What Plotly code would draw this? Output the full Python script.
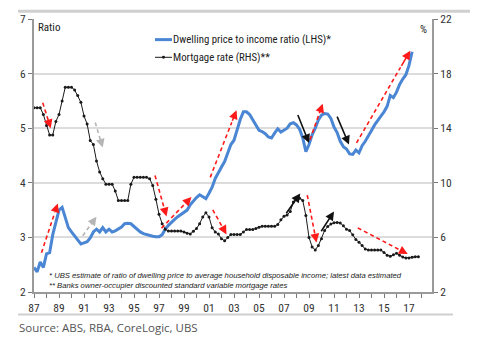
import plotly.graph_objects as go

# ---- data -------------------------------------------------------------
# quarterly observations, first point = 1987 Q1
series_start = 1987.0

price_income_ratio = [
    2.45, 2.37, 2.55, 2.45,
    2.70, 2.72, 3.05, 3.28,
    3.50, 3.55, 3.35, 3.18,
    3.10, 3.03, 2.97, 2.88,
    2.90, 2.92, 2.99, 3.10,
    3.15, 3.10, 3.18, 3.10,
    3.15, 3.10, 3.12, 3.16,
    3.19, 3.25, 3.26, 3.25,
    3.20, 3.15, 3.10, 3.07,
    3.05, 3.03, 3.02, 3.01,
    3.01, 3.05, 3.15, 3.22,
    3.28, 3.33, 3.38, 3.42,
    3.45, 3.50, 3.60, 3.67,
    3.73, 3.78, 3.75, 3.71,
    3.81, 3.92, 4.08, 4.20,
    4.29, 4.39, 4.55, 4.70,
    4.78, 4.98, 5.16, 5.30,
    5.30, 5.25, 5.15, 5.07,
    4.96, 4.94, 4.90, 4.84,
    4.82, 4.91, 4.99, 4.93,
    4.96, 5.00, 5.08, 5.10,
    5.06, 4.98, 4.82, 4.57,
    4.70, 4.88, 5.00, 5.15,
    5.24, 5.27, 5.26, 5.18,
    5.02, 4.92, 4.76, 4.66,
    4.62, 4.53, 4.52, 4.60,
    4.55, 4.68, 4.76, 4.85,
    4.96, 5.06, 5.13, 5.22,
    5.30, 5.40, 5.60, 5.56,
    5.66, 5.80, 5.90, 5.98,
    6.15, 6.40,
]

mortgage_rate = [
    15.5, 15.5, 15.5, 15.0,
    14.2, 13.5, 13.5, 14.5,
    15.0, 16.0, 17.0, 17.0,
    17.0, 16.8, 16.4, 15.9,
    14.9, 14.3, 13.1, 12.8,
    11.6, 10.8, 10.3, 9.9,
    9.9, 9.9, 9.4, 8.7,
    8.7, 8.7, 8.7, 9.9,
    10.4, 10.4, 10.4, 10.4,
    10.4, 10.3, 9.8, 8.8,
    7.7, 7.0, 6.6, 6.46,
    6.46, 6.46, 6.46, 6.46,
    6.4, 6.3, 6.25, 6.45,
    6.65, 7.0, 7.5, 7.8,
    7.5, 6.7, 6.4, 6.24,
    5.9, 5.75, 6.0, 6.22,
    6.22, 6.22, 6.22, 6.4,
    6.58, 6.58, 6.58, 6.65,
    6.75, 6.82, 6.82, 6.82,
    6.82, 6.82, 6.95, 7.3,
    7.55, 7.64, 7.9, 8.6,
    8.8, 8.86, 8.7, 7.6,
    6.0, 5.3, 5.08, 5.4,
    5.9, 6.5, 6.8, 6.98,
    7.08, 7.1, 7.06, 6.85,
    6.6, 6.5, 6.2, 5.85,
    5.65, 5.4, 5.15, 5.07,
    5.07, 5.07, 5.07, 5.07,
    4.9, 4.7, 4.62, 4.72,
    4.83, 4.7, 4.56, 4.5,
    4.5, 4.55, 4.59, 4.59,
]

tick_years = list(range(1987, 2018, 2))
tick_labels = ["87", "89", "91", "93", "95", "97", "99", "01",
               "03", "05", "07", "09", "11", "13", "15", "17"]
minor_years = list(range(1987, 2019))

left_ticks = [2, 3, 4, 5, 6, 7]
right_ticks = [2, 6, 10, 14, 18, 22]

# trend arrows: (x tail, y tail, x head, y head, axis, colour, dashed)
trend_arrows = [
    (1987.7, 15.86, 1988.34, 14.0, "y2", "red", True),
    (1987.6, 2.72, 1988.9, 3.62, "y", "red", True),
    (1991.9, 14.42, 1992.5, 12.58, "y2", "grey", True),
    (1990.9, 3.03, 1992.0, 3.38, "y", "grey", True),
    (1996.68, 10.54, 1997.6, 7.54, "y2", "red", True),
    (1997.2, 3.17, 1999.6, 3.74, "y", "red", True),
    (2001.1, 4.10, 2003.2, 5.33, "y", "red", True),
    (2001.3, 8.02, 2002.4, 6.22, "y2", "red", True),
    (2008.06, 5.27, 2009.0, 4.73, "y", "black", False),
    (2009.08, 4.79, 2010.1, 5.45, "y", "red", True),
    (2011.2, 5.24, 2012.2, 4.70, "y", "black", False),
    (2012.8, 4.73, 2017.1, 6.42, "y", "red", True),
    (2007.1, 7.66, 2008.3, 9.22, "y2", "black", False),
    (2008.86, 9.10, 2009.6, 5.62, "y2", "red", True),
    (2009.9, 6.34, 2011.0, 7.90, "y2", "black", False),
    (2012.9, 6.70, 2016.9, 4.78, "y2", "red", True),
]

# ---- styling -----------------------------------------------------------
NARROW = "Roboto Condensed, DejaVu Sans Condensed, sans-serif"
BLUE = "#4a86d4"
INK = "#1a1a1a"
AXIS = "#9a9a9a"
colour_map = {"red": "#ff1a1a", "grey": "#b5b5b5", "black": "#111111"}

W, H = 481, 347
ML, MR, MT, MB = 34, 49, 14, 55
PW, PH = W - ML - MR, H - MT - MB


def px(x):
    return (x - ML) / PW


def py(y):
    return (H - MB - y) / PH


ratio_x = [series_start + 0.25 * i for i in range(len(price_income_ratio))]
mort_x = [series_start + 0.25 * i for i in range(len(mortgage_rate))]

fig = go.Figure()
fig.add_trace(go.Scatter(
    x=mort_x, y=mortgage_rate, yaxis="y2", mode="lines+markers",
    line=dict(color=INK, width=1), marker=dict(size=3, color=INK),
    name="Mortgage rate (RHS)**", showlegend=False,
))
fig.add_trace(go.Scatter(
    x=ratio_x, y=price_income_ratio, mode="lines",
    line=dict(color=BLUE, width=3),
    name="Dwelling price to income ratio (LHS)*", showlegend=False,
))

shapes = []
annotations = []

for x0, y0, x1, y1, ax_ref, colour, dashed in trend_arrows:
    c = colour_map[colour]
    hx = x1 - 0.18 * (x1 - x0)
    hy = y1 - 0.18 * (y1 - y0)
    if dashed:
        shapes.append(dict(type="line", xref="x", yref=ax_ref,
                           x0=x0, y0=y0, x1=hx, y1=hy,
                           line=dict(color=c, width=1.6, dash="4px,3px")))
        tail_x, tail_y = hx, hy
    else:
        tail_x, tail_y = x0, y0
    annotations.append(dict(
        x=x1, y=y1, xref="x", yref=ax_ref,
        ax=tail_x, ay=tail_y, axref="x", ayref=ax_ref,
        text="", showarrow=True, arrowhead=2, arrowsize=1.1,
        arrowwidth=1.6, arrowcolor=c,
    ))

# frame rules above and below the chart body
shapes.append(dict(type="line", xref="paper", yref="paper",
                   x0=px(18), x1=px(470), y0=py(6), y1=py(6),
                   line=dict(color="#cfcfcf", width=3)))
shapes.append(dict(type="line", xref="paper", yref="paper",
                   x0=px(18), x1=px(453), y0=py(315), y1=py(315),
                   line=dict(color="#cfcfcf", width=2)))

# legend samples
shapes.append(dict(type="line", xref="paper", yref="paper",
                   x0=px(155), x1=px(172), y0=py(35), y1=py(35),
                   line=dict(color=BLUE, width=3)))
shapes.append(dict(type="line", xref="paper", yref="paper",
                   x0=px(155), x1=px(172), y0=py(53), y1=py(53),
                   line=dict(color=INK, width=1)))
shapes.append(dict(type="circle", xref="paper", yref="paper",
                   x0=px(162), x1=px(165), y0=py(51.5), y1=py(54.5),
                   fillcolor=INK, line=dict(color=INK, width=0)))


def label(text, x, y, size, xanchor="left", family=NARROW, color="#222", italic=False):
    annotations.append(dict(
        text=text, x=px(x), y=py(y), xref="paper", yref="paper",
        xanchor=xanchor, yanchor="middle", showarrow=False,
        font=dict(family=family, size=size, color=color,
                  style="italic" if italic else "normal"),
    ))


label("Ratio", 36, 23, 11)
label("%", 429, 25, 11, xanchor="right")
label("Dwelling price to income ratio (LHS)*", 171, 35, 10.8)
label("Mortgage rate (RHS)**", 171, 53, 10.8)
label("* UBS estimate of ratio of dwelling price to average household disposable income; latest data estimated",
      47, 275, 7.7, family="Liberation Sans, Arial, sans-serif", italic=True)
label("** Banks owner-occupier discounted standard variable mortgage rates",
      47, 285, 7.7, family="Liberation Sans, Arial, sans-serif", italic=True)
label("Source: ABS, RBA, CoreLogic, UBS", 17, 328, 11.5,
      family="Open Sans, Noto Sans, sans-serif", color="#555")

tick_font = dict(family=NARROW, size=11.5, color="#333")

fig.update_layout(
    width=W, height=H,
    margin=dict(l=ML, r=MR, t=MT, b=MB),
    paper_bgcolor="white", plot_bgcolor="white",
    showlegend=False,
    xaxis=dict(
        range=[1987, 2018.84], tickmode="array",
        tickvals=tick_years, ticktext=tick_labels,
        ticks="outside", ticklen=4, tickwidth=1, tickcolor="#777",
        showline=True, linecolor=AXIS, linewidth=2,
        showgrid=False, zeroline=False, tickfont=tick_font,
        minor=dict(tickmode="array", tickvals=minor_years, ticks="outside",
                   ticklen=4, tickwidth=1, tickcolor="#777", showgrid=False),
    ),
    yaxis=dict(
        range=[2, 7], tickmode="array", tickvals=left_ticks,
        ticks="outside", ticklen=4, tickwidth=1, tickcolor="#777",
        showline=True, linecolor=AXIS, linewidth=2,
        showgrid=True, gridcolor="#dcdcdc", gridwidth=1.5,
        zeroline=False, tickfont=tick_font,
    ),
    yaxis2=dict(
        range=[2, 22], tickmode="array", tickvals=right_ticks,
        overlaying="y", side="right",
        ticks="outside", ticklen=4, tickwidth=1, tickcolor="#777",
        showline=True, linecolor=AXIS, linewidth=2,
        showgrid=False, zeroline=False, tickfont=tick_font,
    ),
    shapes=shapes,
    annotations=annotations,
)

fig.write_html("out.html")
